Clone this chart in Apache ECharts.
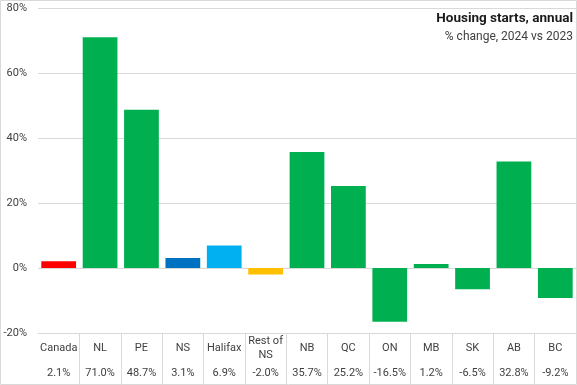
<!DOCTYPE html>
<html>
<head>
<meta charset="utf-8">
<script src="https://cdn.jsdelivr.net/npm/echarts@6/dist/echarts.min.js"></script>
<style>html,body{margin:0;padding:0;background:#fff}#c{width:577px;height:385px}</style>
</head>
<body>
<div id="c"></div>
<script>
const categories = ['Canada','NL','PE','NS','Halifax','Rest of\nNS','NB','QC','ON','MB','SK','AB','BC'];
const values = [2.1, 71.0, 48.7, 3.1, 6.9, -2.0, 35.7, 25.2, -16.5, 1.2, -6.5, 32.8, -9.2];
const barColors = ['#FF0000','#00B050','#00B050','#0070C0','#00B0F0','#FFC000','#00B050','#00B050','#00B050','#00B050','#00B050','#00B050','#00B050'];
const yTicks = {min: -20, max: 80, interval: 20};
const titleText = 'Housing starts, annual';
const subtitleText = '% change, 2024 vs 2023';

const chart = echarts.init(document.getElementById('c'), null, {renderer: 'canvas'});
const font = 'Roboto, "Noto Sans", sans-serif';
chart.setOption({
  animation: false,
  grid: {left: 38, right: 1, top: 8, bottom: 52, containLabel: false},
  title: [
    {text: titleText, right: -1, top: 7, textStyle: {fontFamily: font, fontSize: 13.5, fontWeight: 'bold', color: '#1a1a1a'}},
    {text: subtitleText, right: -1, top: 26, textStyle: {fontFamily: font, fontSize: 12, fontWeight: 'normal', color: '#404040'}}
  ],
  xAxis: [
    {
      type: 'category', data: categories, position: 'bottom',
      axisLine: {onZero: false, show: true, lineStyle: {color: '#d9d9d9'}},
      axisTick: {show: true, interval: function (i) { return i !== 0; }, length: 51, lineStyle: {color: '#d9d9d9'}},
      axisLabel: {interval: 0, margin: 15, verticalAlign: 'middle', lineHeight: 14, fontFamily: font, fontSize: 11, color: '#404040'}
    },
    {
      type: 'category', data: values.map(v => v.toFixed(1) + '%'), position: 'bottom',
      axisLine: {onZero: false, show: false},
      axisTick: {show: false},
      axisLabel: {interval: 0, margin: 40, verticalAlign: 'middle', fontFamily: font, fontSize: 11, color: '#404040'}
    }
  ],
  yAxis: {
    type: 'value', min: yTicks.min, max: yTicks.max, interval: yTicks.interval,
    axisLine: {show: false}, axisTick: {show: false},
    axisLabel: {formatter: '{value}%', margin: 11, fontFamily: font, fontSize: 11, color: '#404040'},
    splitLine: {lineStyle: {color: '#d9d9d9'}}
  },
  series: [{
    type: 'bar', xAxisIndex: 0,
    data: values.map((v, i) => ({value: v, itemStyle: {color: barColors[i]}})),
    barCategoryGap: '16%'
  }],
  graphic: [{
    type: 'rect', silent: true, z: 100,
    shape: {x: 0.5, y: 0.5, width: 576, height: 384},
    style: {fill: 'none', stroke: '#d9d9d9', lineWidth: 1}
  }]
});
</script>
</body>
</html>
